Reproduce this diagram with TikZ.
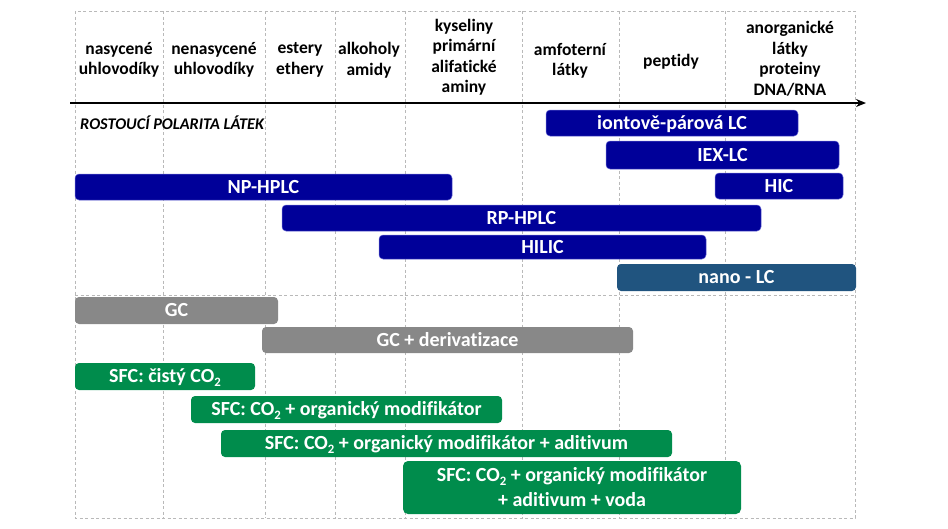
\documentclass[tikz,border=0pt]{standalone}
\usepackage{fontspec}
\setmainfont{Carlito}[Ligatures=NoCommon]
\usetikzlibrary{arrows.meta}
\definecolor{bbar}{RGB}{0,0,153}
\definecolor{bedge}{RGB}{100,100,210}
\definecolor{nbar}{RGB}{32,84,127}
\definecolor{gbar}{RGB}{136,136,136}
\definecolor{sbar}{RGB}{0,140,76}
\definecolor{gridgray}{RGB}{185,185,185}
\newcommand\cosub{\raisebox{-0.35ex}{\fontsize{12.8}{12.8}\selectfont 2}}
\newcommand\tbar[7]{\node[#7, minimum width={(#4-#2)*1pt}, minimum height={(#5-#3)*1pt}] (#1) at ({(#2+#4)/2},{(#3+#5)/2}) {#6};}
\begin{document}
\begin{tikzpicture}[x=1pt,y=-1pt,
  gridline/.style={draw=gridgray, dash pattern=on 3pt off 2.5pt, line width=0.8pt},
  axis/.style={draw=black, line width=1.8pt, -{Stealth[length=10pt,width=8pt]}},
  hdr/.style={font=\bfseries\fontsize{17.5}{20.5}\selectfont, align=center, text=black, inner sep=0pt},
  note/.style={font=\bfseries\itshape\fontsize{16.3}{18}\selectfont, anchor=west, inner sep=0pt},
  tb/.style={rounded corners=4pt, inner sep=0pt, text=white, font=\bfseries\fontsize{20}{25}\selectfont, text height=15.8pt, text depth=3pt},
  blu/.style={tb, fill=bbar, draw=bedge, line width=0.5pt},
  nan/.style={tb, fill=nbar},
  gry/.style={tb, fill=gbar},
  grn/.style={tb, fill=sbar},
  grn2/.style={rounded corners=5pt, inner sep=0pt, text=white, font=\bfseries\fontsize{20}{25}\selectfont, align=center, fill=sbar}
]
\useasboundingbox (0,0) rectangle (948,528);
% grid
\draw[gridline] (75,11) rectangle (855,518);
\foreach \gx in {163,265,335,405,522,619,725}{\draw[gridline] (\gx,11) -- (\gx,518);}
\draw[gridline] (75,295) -- (855,295);
% axis
\coordinate (axL) at (70,103);
\coordinate (axR) at (866,103);
\draw[axis] (axL) -- (axR);
% headers
\node[hdr] (h1) at (119,60) {nasycené\\uhlovodíky};
\node[hdr] (h2) at (214,60) {nenasycené\\uhlovodíky};
\node[hdr] (h3) at (300,60) {estery\\ethery};
\node[hdr] (h4) at (369,60) {alkoholy\\amidy};
\node[hdr] (h5) at (464,57) {kyseliny\\primární\\alifatické\\aminy};
\node[hdr] (h6) at (570,61) {amfoterní\\látky};
\node[hdr] (h7) at (671,62) {peptidy};
\node[hdr] (h8) at (790,59) {anorganické\\látky\\proteiny\\DNA/RNA};
\node[note] (pol) at (80,123) {ROSTOUCÍ POLARITA LÁTEK};
% LC bars
\tbar{ipc}{546}{110}{798}{136}{iontově-párová LC}{blu}
\tbar{iex}{606}{141}{839}{169}{IEX-LC}{blu}
\tbar{hic}{715}{173}{843}{199}{HIC}{blu}
\tbar{np}{75}{174}{452}{200}{NP-HPLC}{blu}
\tbar{rp}{282}{205}{761}{231}{RP-HPLC}{blu}
\tbar{hilic}{379}{235}{706}{259}{HILIC}{blu}
\tbar{nano}{617}{264}{856}{291}{nano - LC}{nan}
% GC bars
\tbar{gc}{75}{297}{278}{324}{GC}{gry}
\tbar{gcd}{262}{327}{633}{353}{GC + derivatizace}{gry}
% SFC bars
\tbar{sfc1}{75}{363}{255}{390}{SFC: čistý CO\cosub}{grn}
\tbar{sfc2}{191}{396}{502}{423}{SFC: CO\cosub{} + organický modifikátor}{grn}
\tbar{sfc3}{221}{430}{672}{457}{SFC: CO\cosub{} + organický modifikátor + aditivum}{grn}
\tbar{sfc4}{403}{461}{741}{514}{SFC: CO\cosub{} + organický modifikátor\\+ aditivum + voda}{grn2}
\end{tikzpicture}
\end{document}
